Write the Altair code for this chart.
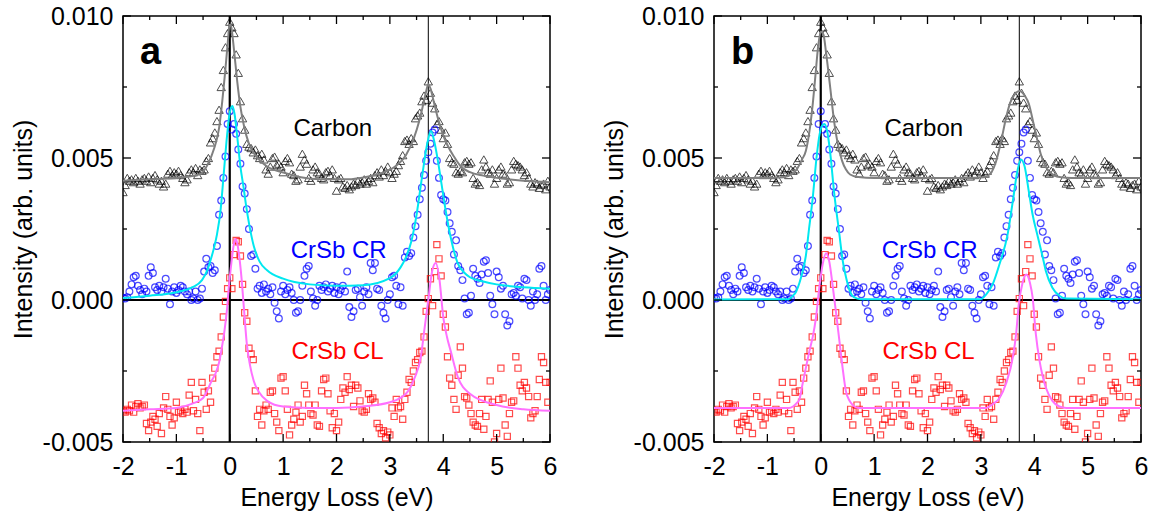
import altair as alt
import pandas as pd

FONT = "Liberation Sans"
PW, PH = 427, 426

# ---- measured spectra (units of 1e-3 arb. units), sampled every 0.04 eV from -2 eV ----
E_START = -2.0
E_STEP = 0.04

CARBON = [
    3.8, 4.05, 4.3, 4.2, 4.25, 4.15, 4.3, 4.2, 4.1, 4.25,
    4.3, 4.2, 4.35, 4.15, 4.3, 4.4, 4.25, 4.1, 4.2, 4.0,
    4.1, 4.45, 4.55, 4.4, 4.5, 4.45, 4.55, 4.4, 4.3, 4.15,
    4.25, 4.5, 4.6, 4.5, 4.65, 4.4, 4.6, 4.55, 4.6, 4.9,
    5.0, 5.55, 5.7, 5.9, 6.3, 6.7, 7.5, 8.1, 8.9, 9.4,
    9.8, 9.6, 9.4, 8.65, 8.0, 7.0, 6.4, 6.0, 5.5, 5.4,
    5.35, 5.2, 5.3, 5.1, 5.0, 5.15, 4.95, 4.6, 4.45, 4.7,
    5.0, 5.05, 4.75, 4.8, 4.7, 4.5, 4.9, 5.0, 4.85, 4.45,
    4.4, 4.2, 4.25, 4.7, 5.15, 4.95, 4.8, 4.3, 4.2, 4.6,
    4.7, 4.5, 4.45, 4.3, 4.25, 4.5, 4.55, 4.4, 4.6, 4.3,
    3.85, 4.25, 4.3, 4.0, 3.95, 4.05, 3.9, 4.0, 4.1, 4.05,
    4.2, 4.1, 4.15, 4.25, 4.1, 4.2, 4.3, 4.15, 4.4, 4.5,
    4.35, 4.6, 4.4, 4.55, 4.7, 4.5, 4.3, 4.45, 4.55, 4.75,
    4.9, 5.1, 5.6, 5.65, 5.5, 5.7, 5.6, 6.4, 6.5, 6.6,
    7.0, 7.2, 7.05, 7.7, 7.3, 6.95, 6.75, 6.2, 6.3, 6.0,
    5.7, 5.9, 5.5, 5.0, 4.85, 4.8, 4.5, 4.45, 4.55, 4.5,
    4.85, 4.9, 4.8, 4.85, 4.3, 4.1, 4.15, 4.05, 4.6, 4.95,
    4.7, 4.5, 4.45, 4.6, 4.1, 4.3, 4.6, 4.7, 4.45, 4.4,
    4.1, 4.15, 4.6, 4.9, 4.8, 4.75, 4.7, 4.6, 4.4, 4.5,
    4.3, 4.1, 4.0, 4.15, 4.1, 3.95, 4.05, 4.1, 3.9, 4.2,
    4.0,
]

CRSB_CR = [
    0.08, 0.05, 0.1, 0.3, 0.55, 0.8, 0.85, 0.5, 0.35, 0.2,
    0.4, 0.3, 0.85, 1.15, 0.95, 0.45, 0.35, 0.5, 0.3, 0.45,
    0.75, 0.4, -0.15, 0.3, 0.45, 0.25, 0.35, 0.5, 0.45, 0.3,
    0.2, 0.3, 0.0, 0.05, 0.3, 0.0, 0.05, 0.4, 1.0, 1.45,
    1.15, 1.2, 0.95, 1.05, 1.9, 3.0, 3.5, 4.3, 5.05, 6.2,
    6.65, 6.0, 6.2, 5.85, 5.3, 4.8, 4.0, 3.75, 3.2, 2.5,
    1.55, 1.6, 1.1, 0.4, 0.5, 0.25, 0.55, 0.3, 0.4, 0.2,
    0.45, -0.1, -0.4, -0.65, 0.3, 0.5, 0.2, 0.35, 0.45, 0.25,
    0.0, -0.45, -0.4, 0.0, 0.5, 0.85, 1.1, 1.2, 0.3, 0.05,
    -0.2, 0.0, 0.5, 0.35, 0.45, 0.55, 0.3, 0.4, 0.5, 0.25,
    0.45, 0.2, 0.35, 0.5, 0.3, 1.0, -0.25, -0.6, -0.4, 0.35,
    0.4, 0.1, -0.2, 0.3, 0.45, 0.2, 1.3, 1.05, 1.3, 0.4,
    0.35, -0.2, -0.45, -0.65, 0.0, 0.2, 0.8, 0.85, 0.5, -0.15,
    0.45, -0.2, 1.5, 1.7, 1.55, 1.65, 2.2, 2.6, 3.0, 3.55,
    3.95, 4.4, 4.9, 5.2, 5.5, 5.9, 6.0, 4.9, 4.3, 3.7,
    3.55, 3.5, 3.1, 2.7, 2.4, 1.6, 2.1, 1.2, 1.05, 0.7,
    0.05, -0.5, -0.45, 0.15, 1.1, 0.85, 0.75, 0.6, 0.9, 1.35,
    1.4, 0.95, 0.15, -0.15, -0.5, 1.0, 0.8, 0.4, 0.5, -0.5,
    -0.9, -0.75, 0.2, 0.25, 0.15, 0.5, 0.45, 0.05, 0.75, 0.7,
    0.0, -0.2, 0.3, 0.0, 0.2, 1.1, 1.2, 0.5, 0.0, 0.2,
    0.35,
]

CRSB_CL = [
    -3.9, -3.95, -3.85, -3.9, -3.7, -3.95, -3.75, -3.65, -3.8, -3.75,
    -3.7, -4.35, -4.6, -4.3, -4.1, -4.2, -4.45, -4.0, -4.7, -3.8,
    -3.4, -3.85, -4.1, -4.4, -4.15, -3.6, -3.95, -3.9, -4.0, -3.85,
    -3.95, -3.35, -2.9, -3.9, -3.5, -4.0, -4.6, -2.9, -3.25, -3.85,
    -3.2, -3.6, -2.75, -2.4, -2.0, -1.8, -1.3, -0.6, -0.05, 0.4,
    0.78, 0.4, 1.6, 2.1, 2.05, 1.55, 0.55, -0.45, -0.75, -1.7,
    -1.9, -2.1, -3.2, -4.1, -3.85, -4.4, -3.9, -3.7, -3.85, -3.25,
    -3.2, -4.0, -4.3, -4.6, -2.75, -2.7, -3.2, -3.85, -4.75, -4.4,
    -4.2, -3.95, -3.7, -4.3, -4.1, -3.0, -3.3, -3.7, -4.0, -4.05,
    -3.7, -4.4, -4.45, -3.2, -2.8, -2.75, -3.3, -3.9, -4.5, -4.0,
    -4.6, -4.3, -3.5, -3.1, -3.25, -2.7, -3.15, -3.0, -3.75, -3.0,
    -3.1, -3.55, -3.9, -3.95, -3.85, -3.3, -3.5, -3.45, -3.6, -4.35,
    -4.5, -4.7, -4.6, -4.85, -4.65, -4.75, -3.8, -4.1, -3.5, -3.8,
    -3.75, -4.2, -3.5, -3.25, -2.8, -2.9, -2.5, -2.2, -2.1, -1.85,
    -1.8, -1.3, -0.4, 0.05, 0.75, -0.2, 1.0, 1.95, 1.45, 0.85,
    -0.5, -0.95, -2.0, -2.75, -3.0, -3.5, -3.85, -2.65, -1.65, -2.4,
    -3.4, -3.45, -3.7, -4.0, -4.3, -4.4, -4.45, -4.0, -3.5, -4.55,
    -4.1, -3.5, -2.85, -3.6, -5.0, -4.7, -3.5, -2.4, -3.45, -4.4,
    -4.8, -4.0, -3.6, -3.55, -2.0, -2.4, -3.0, -3.2, -2.9, -3.1,
    -3.4, -4.15, -4.0, -3.9, -3.4, -2.8, -2.0, -2.2, -2.9, -3.6,
    -2.9,
]

ENERGY = [round(E_START + E_STEP * i, 2) for i in range(len(CARBON))]

# ---- fitted curves (panel a: Lorentzian-like, panel b: Gaussian-like) ----
FIT_A_CARBON_X = [-2.0, -1.5, -1.0, -0.75, -0.54, -0.42, -0.29, -0.2, -0.14, -0.09, -0.04, 0.0, 0.03, 0.08, 0.14, 0.2, 0.27, 0.36, 0.52, 0.7, 1.02, 1.33, 1.7, 2.2, 2.6, 2.9, 3.1, 3.3, 3.45, 3.55, 3.62, 3.68, 3.72, 3.76, 3.82, 3.9, 4.0, 4.08, 4.2, 4.33, 4.5, 4.75, 5.0, 5.5, 6.0]
FIT_A_CARBON_Y = [4.2, 4.25, 4.3, 4.35, 4.45, 4.75, 5.35, 6.05, 7.0, 7.95, 9.0, 9.75, 9.6, 8.8, 7.7, 6.8, 6.1, 5.5, 5.0, 4.7, 4.48, 4.32, 4.25, 4.25, 4.35, 4.5, 4.7, 5.1, 5.7, 6.3, 6.85, 7.35, 7.6, 7.45, 7.0, 6.4, 5.8, 5.45, 5.05, 4.7, 4.5, 4.38, 4.3, 4.2, 4.15]

FIT_A_CR_X = [-2.0, -1.5, -1.0, -0.7, -0.52, -0.42, -0.36, -0.3, -0.24, -0.17, -0.11, -0.05, 0.0, 0.05, 0.09, 0.14, 0.2, 0.26, 0.3, 0.37, 0.45, 0.56, 0.7, 1.0, 1.5, 2.0, 2.5, 3.0, 3.2, 3.3, 3.4, 3.5, 3.6, 3.7, 3.77, 3.83, 3.9, 3.95, 4.05, 4.14, 4.27, 4.4, 4.5, 4.75, 5.0, 5.5, 6.0]
FIT_A_CR_Y = [0.07, 0.15, 0.27, 0.45, 0.7, 1.05, 1.4, 1.8, 2.3, 3.2, 4.5, 5.8, 6.6, 6.83, 6.55, 5.75, 4.7, 3.95, 3.4, 2.6, 1.9, 1.35, 1.05, 0.75, 0.55, 0.5, 0.52, 0.77, 1.15, 1.5, 2.05, 3.0, 4.3, 5.5, 5.95, 5.6, 4.9, 4.3, 3.1, 2.2, 1.3, 0.95, 0.8, 0.65, 0.55, 0.45, 0.4]

FIT_A_CL_X = [-2.0, -1.5, -1.0, -0.7, -0.5, -0.34, -0.27, -0.2, -0.15, -0.1, -0.05, -0.02, 0.03, 0.08, 0.11, 0.14, 0.18, 0.22, 0.27, 0.32, 0.38, 0.45, 0.55, 0.7, 1.0, 1.5, 2.0, 2.5, 3.0, 3.3, 3.45, 3.58, 3.65, 3.72, 3.79, 3.86, 3.93, 4.0, 4.07, 4.14, 4.27, 4.5, 5.0, 5.5, 6.0]
FIT_A_CL_Y = [-3.9, -3.85, -3.8, -3.65, -3.45, -2.85, -2.6, -2.2, -1.7, -1.1, -0.3, 0.4, 1.3, 2.0, 2.15, 2.0, 1.5, 0.78, -0.4, -1.55, -2.3, -2.85, -3.25, -3.55, -3.75, -3.8, -3.8, -3.75, -3.6, -3.3, -2.8, -2.0, -1.0, 0.0, 1.0, 1.3, 0.7, -0.6, -1.3, -1.8, -2.7, -3.3, -3.7, -3.85, -3.9]

FIT_B_CARBON_X = [-2.0, -1.0, -0.7, -0.55, -0.45, -0.35, -0.28, -0.2, -0.15, -0.1, -0.05, 0.0, 0.05, 0.1, 0.17, 0.25, 0.33, 0.4, 0.47, 0.55, 0.7, 1.0, 2.8, 3.0, 3.1, 3.2, 3.28, 3.38, 3.47, 3.55, 3.62, 3.72, 3.82, 3.9, 3.97, 4.05, 4.12, 4.2, 4.28, 4.36, 4.5, 4.7, 6.0]
FIT_B_CARBON_Y = [4.3, 4.3, 4.32, 4.42, 4.6, 4.95, 5.25, 6.1, 6.9, 7.9, 8.9, 9.45, 9.35, 8.7, 7.6, 6.3, 5.4, 4.9, 4.6, 4.42, 4.33, 4.3, 4.3, 4.31, 4.35, 4.5, 4.85, 5.6, 6.4, 6.95, 7.2, 7.36, 7.2, 6.9, 6.35, 5.7, 5.15, 4.75, 4.52, 4.4, 4.32, 4.3, 4.3]

FIT_B_CR_X = [-2.0, -0.6, -0.52, -0.46, -0.4, -0.34, -0.28, -0.22, -0.15, -0.08, -0.02, 0.03, 0.07, 0.12, 0.17, 0.25, 0.35, 0.41, 0.48, 0.54, 0.62, 0.75, 3.0, 3.1, 3.22, 3.35, 3.5, 3.6, 3.68, 3.75, 3.82, 3.9, 3.97, 4.07, 4.16, 4.22, 4.34, 4.47, 4.6, 6.0]
FIT_B_CR_Y = [0.02, 0.03, 0.15, 0.3, 0.6, 1.0, 1.55, 2.5, 3.6, 5.0, 5.85, 6.15, 6.2, 5.95, 5.3, 3.8, 2.3, 1.4, 0.75, 0.35, 0.1, 0.03, 0.03, 0.2, 0.55, 1.27, 2.3, 3.5, 4.5, 4.95, 4.7, 3.8, 3.0, 2.2, 1.5, 1.0, 0.43, 0.15, 0.05, 0.03]

FIT_B_CL_X = [-2.0, -0.6, -0.52, -0.46, -0.4, -0.34, -0.28, -0.2, -0.15, -0.09, -0.02, 0.04, 0.1, 0.16, 0.22, 0.29, 0.35, 0.41, 0.47, 0.54, 0.6, 0.7, 3.1, 3.22, 3.35, 3.47, 3.6, 3.66, 3.71, 3.78, 3.85, 3.92, 3.97, 4.03, 4.1, 4.16, 4.22, 4.34, 4.47, 4.6, 6.0]
FIT_B_CL_Y = [-3.8, -3.8, -3.75, -3.65, -3.5, -2.95, -2.4, -1.7, -1.3, -0.63, 0.55, 1.3, 1.65, 1.35, 0.55, -0.5, -1.45, -2.4, -3.2, -3.55, -3.7, -3.8, -3.8, -3.67, -3.45, -2.95, -2.0, -1.2, -0.15, 0.6, 0.9, 0.6, 0.08, -1.2, -2.15, -2.7, -3.1, -3.55, -3.75, -3.8, -3.8]

# ---- reference lines, labels, ticks ----
VLINE_X = [0.0, 3.72]
VLINE_W = [2.2, 1.0]
HLINE_Y = [0.0]
LABEL_TEXT = ["Carbon", "CrSb CR", "CrSb CL"]
LABEL_X = [1.93, 2.04, 2.02]
LABEL_Y = [5.77, 1.48, -2.08]
LABEL_COLOR = ["#000000", "#0000ff", "#ff0000"]
X_DOMAIN = [-2, 6]
Y_DOMAIN = [-5, 10]
X_MAJOR = [-2, -1, 0, 1, 2, 3, 4, 5, 6]
X_MINOR = [-1.5, -0.5, 0.5, 1.5, 2.5, 3.5, 4.5, 5.5]
Y_MAJOR = [-5, 0, 5, 10]
Y_MINOR = [-2.5, 2.5, 7.5]
TICK_MAJOR_PX = 8
TICK_MINOR_PX = 4

AXIS_STYLE = dict(
    ticks=False, tickSize=0, domain=False, grid=False, labelFlush=False, labelOverlap=False,
    labelFont=FONT, titleFont=FONT, labelFontSize=25, titleFontSize=25,
    titleFontWeight="normal", labelColor="black", titleColor="black",
)

xscale = alt.Scale(domain=X_DOMAIN, nice=False, zero=False)
yscale = alt.Scale(domain=Y_DOMAIN, nice=False, zero=False)
xaxis = alt.Axis(title="Energy Loss (eV)", values=X_MAJOR, labelExpr="'' + datum.value",
                 labelPadding=12, titlePadding=6, **AXIS_STYLE)
yaxis = alt.Axis(title="Intensity (arb. units)", values=Y_MAJOR,
                 labelExpr="(datum.value < 0 ? '-' : '') + format(abs(datum.value) / 1000, '.3f')",
                 labelPadding=10, titlePadding=6, **AXIS_STYLE)


def X(f):
    return alt.X(f, type="quantitative", scale=xscale, axis=xaxis)


def Y(f):
    return alt.Y(f, type="quantitative", scale=yscale, axis=yaxis)


spectra = pd.DataFrame({"e": ENERGY, "carbon": CARBON, "cr": CRSB_CR, "cl": CRSB_CL})

# data units per pixel, for the inward-pointing frame ticks
XU = (X_DOMAIN[1] - X_DOMAIN[0]) / PW
YU = (Y_DOMAIN[1] - Y_DOMAIN[0]) / PH


def tick_layers():
    layers = []
    for vals, px in ((X_MAJOR, TICK_MAJOR_PX), (X_MINOR, TICK_MINOR_PX)):
        df = pd.DataFrame({"v": vals})
        base = alt.Chart(df).mark_rule(color="black", strokeWidth=1.3)
        layers.append(base.encode(x=X("v"), y=alt.datum(Y_DOMAIN[0]), y2=alt.datum(Y_DOMAIN[0] + px * YU)))
        layers.append(base.encode(x=X("v"), y=alt.datum(Y_DOMAIN[1]), y2=alt.datum(Y_DOMAIN[1] - px * YU)))
    for vals, px in ((Y_MAJOR, TICK_MAJOR_PX), (Y_MINOR, TICK_MINOR_PX)):
        df = pd.DataFrame({"v": vals})
        base = alt.Chart(df).mark_rule(color="black", strokeWidth=1.3)
        layers.append(base.encode(y=Y("v"), x=alt.datum(X_DOMAIN[0]), x2=alt.datum(X_DOMAIN[0] + px * XU)))
        layers.append(base.encode(y=Y("v"), x=alt.datum(X_DOMAIN[1]), x2=alt.datum(X_DOMAIN[1] - px * XU)))
    return layers


def fit_line(xs, ys, color):
    df = pd.DataFrame({"e": xs, "v": ys})
    return alt.Chart(df).mark_line(color=color, strokeWidth=2, interpolate="monotone", clip=True).encode(
        x=X("e"), y=Y("v"))


def panel(letter, fits):
    layers = []
    vdf = pd.DataFrame({"v": VLINE_X, "w": VLINE_W})
    layers.append(alt.Chart(vdf).mark_rule(color="black").encode(
        x=X("v"), strokeWidth=alt.StrokeWidth("w:Q", scale=None, legend=None)))
    layers.append(alt.Chart(pd.DataFrame({"v": HLINE_Y})).mark_rule(color="black", strokeWidth=2).encode(y=Y("v")))

    base = alt.Chart(spectra)
    layers.append(base.mark_point(shape="triangle-up", size=70, filled=False, color="black",
                                  strokeWidth=1, clip=True).encode(x=X("e"), y=Y("carbon")))
    layers.append(base.mark_point(shape="circle", size=46, filled=False, color="#0000ff",
                                  strokeWidth=1.2, clip=True).encode(x=X("e"), y=Y("cr")))
    layers.append(base.mark_point(shape="square", size=38, filled=False, color="#ff0000",
                                  strokeWidth=1.2, clip=True).encode(x=X("e"), y=Y("cl")))

    (cx, cy), (rx, ry), (lx, ly) = fits
    layers.append(fit_line(cx, cy, "#808080"))
    layers.append(fit_line(rx, ry, "#00e8f0"))
    layers.append(fit_line(lx, ly, "#ff70ff"))

    ldf = pd.DataFrame({"e": LABEL_X, "v": LABEL_Y, "t": LABEL_TEXT, "c": LABEL_COLOR})
    layers.append(alt.Chart(ldf).mark_text(font=FONT, fontSize=24, align="center", baseline="alphabetic").encode(
        x=X("e"), y=Y("v"), text="t:N", color=alt.Color("c:N", scale=None, legend=None)))

    layers.append(alt.Chart(pd.DataFrame({"t": [letter]})).mark_text(
        font=FONT, fontSize=38, fontWeight="bold", align="left", baseline="alphabetic", color="black").encode(
        text="t:N", x=alt.value(17), y=alt.value(48)))

    layers += tick_layers()
    return alt.layer(*layers).properties(width=PW, height=PH)


panel_a = panel("a", [(FIT_A_CARBON_X, FIT_A_CARBON_Y), (FIT_A_CR_X, FIT_A_CR_Y), (FIT_A_CL_X, FIT_A_CL_Y)])
panel_b = panel("b", [(FIT_B_CARBON_X, FIT_B_CARBON_Y), (FIT_B_CR_X, FIT_B_CR_Y), (FIT_B_CL_X, FIT_B_CL_Y)])

chart = alt.hconcat(panel_a, panel_b, spacing=43).properties(
    padding={"left": 10, "top": 3, "right": 0, "bottom": 0},
    background="white",
).configure_view(
    stroke="black", strokeWidth=1.5
)

chart.save("out.html", embed_options={"renderer": "svg", "actions": False})
